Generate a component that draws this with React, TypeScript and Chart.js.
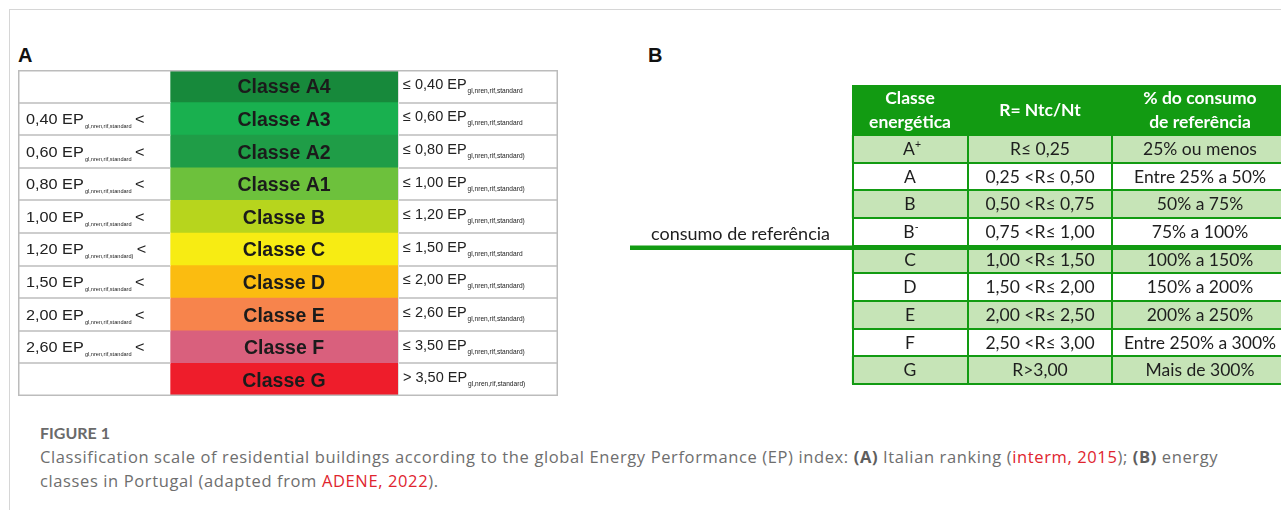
import React, { useEffect, useRef } from "react";
import { Chart, registerables } from "chart.js";
Chart.register(...registerables);

// ---------- Panel A data (Italian ranking) ----------
const classesA = ["Classe A4", "Classe A3", "Classe A2", "Classe A1", "Classe B", "Classe C", "Classe D", "Classe E", "Classe F", "Classe G"];
const lowerBoundsA = ["", "0,40", "0,60", "0,80", "1,00", "1,20", "1,50", "2,00", "2,60", ""];
const lowerSubsA = ["", "gl,nren,rif,standard", "gl,nren,rif,standard", "gl,nren,rif,standard", "gl,nren,rif,standard", "gl,nren,rif,standard)", "gl,nren,rif,standard", "gl,nren,rif,standard", "gl,nren,rif,standard", ""];
const upperBoundsA = ["≤ 0,40", "≤ 0,60", "≤ 0,80", "≤ 1,00", "≤ 1,20", "≤ 1,50", "≤ 2,00", "≤ 2,60", "≤ 3,50", "> 3,50"];
const upperSubsA = ["gl,nren,rif,standard", "gl,nren,rif,standard", "gl,nren,rif,standard)", "gl,nren,rif,standard)", "gl,nren,rif,standard)", "gl,nren,rif,standard", "gl,nren,rif,standard)", "gl,nren,rif,standard)", "gl,nren,rif,standard)", "gl,nren,rif,standard)"];
const colorsA = ["#17893b", "#19b04f", "#1f9d47", "#6dc13c", "#b7d51d", "#f7ec13", "#fbbc10", "#f7844c", "#d9607d", "#ee1d2b"];

// ---------- Panel B data (Portugal) ----------
const headersB = [["Classe", "energética"], ["R= Ntc/Nt"], ["% do consumo", "de referência"]];
const classesB = ["A+", "A", "B", "B-", "C", "D", "E", "F", "G"];
const ratioB = ["R≤ 0,25", "0,25 <R≤ 0,50", "0,50 <R≤ 0,75", "0,75 <R≤ 1,00", "1,00 <R≤ 1,50", "1,50 <R≤ 2,00", "2,00 <R≤ 2,50", "2,50 <R≤ 3,00", "R>3,00"];
const percentB = ["25% ou menos", "Entre 25% a 50%", "50% a 75%", "75% a 100%", "100% a 150%", "150% a 200%", "200% a 250%", "Entre 250% a 300%", "Mais de 300%"];
const referenceClassB = "B-";
const referenceLabelB = "consumo de referência";

// ---------- layout constants ----------
const COL_EDGES_A = [0, 152, 380, 540];
const COL_EDGES_B = [232, 348, 492, 668];
const GREEN_DARK = "#129b12";
const GREEN_LIGHT = "#c6e4b7";
const FONT_B = '17.5px "Lato"';

function drawEP(ctx: CanvasRenderingContext2D, x: number, y: number, main: string, sub: string, suffix: string, mainSize: number, subSize: number, sx: number) {
  ctx.save();
  ctx.translate(x, y);
  ctx.scale(sx, 1);
  ctx.textAlign = "left";
  ctx.textBaseline = "alphabetic";
  ctx.font = `${mainSize}px "Liberation Sans"`;
  ctx.fillText(main, 0, 0);
  let w = ctx.measureText(main).width;
  ctx.font = `${subSize}px "Liberation Sans"`;
  ctx.fillText(sub, w + 1, 4);
  w += 1 + ctx.measureText(sub).width;
  if (suffix) {
    ctx.font = `${mainSize}px "Liberation Sans"`;
    ctx.fillText(suffix, w + 3, 0);
  }
  ctx.restore();
}

const tableAPlugin = {
  id: "tableA",
  afterDatasetsDraw(chart: any) {
    const { ctx, chartArea, scales } = chart;
    const x = scales.x, y = scales.y;
    const n = classesA.length;
    const rowH = (chartArea.bottom - chartArea.top) / n;
    const xe = COL_EDGES_A.map((v) => x.getPixelForValue(v));
    ctx.save();
    ctx.strokeStyle = "#cdcdcd";
    ctx.lineWidth = 2;
    for (let i = 1; i < n; i++) {
      const yy = Math.round(y.getPixelForValue(i) - rowH / 2);
      ctx.beginPath();
      ctx.moveTo(xe[0], yy); ctx.lineTo(xe[1], yy);
      ctx.moveTo(xe[2], yy); ctx.lineTo(xe[3], yy);
      ctx.stroke();
    }
    ctx.strokeStyle = "#dedede";
    ctx.lineWidth = 1;
    ctx.beginPath();
    ctx.moveTo(xe[2] + 0.5, chartArea.top); ctx.lineTo(xe[2] + 0.5, chartArea.bottom);
    ctx.stroke();
    ctx.strokeStyle = "#bcbcbc";
    ctx.lineWidth = 1.5;
    ctx.strokeRect(xe[0] + 0.75, chartArea.top + 0.75, xe[3] - xe[0] - 1.5, chartArea.bottom - chartArea.top - 1.5);
    for (let i = 0; i < n; i++) {
      const cy = y.getPixelForValue(i);
      ctx.fillStyle = "#1b1b1b";
      ctx.font = 'bold 19.5px "Liberation Sans"';
      ctx.textAlign = "center";
      ctx.textBaseline = "alphabetic";
      ctx.fillText(classesA[i], (xe[1] + xe[2]) / 2, cy + 7);
      ctx.fillStyle = "#222222";
      if (lowerBoundsA[i]) drawEP(ctx, xe[0] + 8, cy + 5, lowerBoundsA[i] + " EP", lowerSubsA[i], "<", 14.5, 5, 1.12);
      drawEP(ctx, xe[2] + 5, cy + 2.5, upperBoundsA[i] + " EP", upperSubsA[i], "", 14.5, 6.6, 1.0);
    }
    ctx.restore();
  },
};

const tableBPlugin = {
  id: "tableB",
  afterDatasetsDraw(chart: any) {
    const { ctx, chartArea, scales } = chart;
    const x = scales.x, y = scales.y;
    const n = classesB.length;
    const rowH = (chartArea.bottom - chartArea.top) / n;
    const xe = COL_EDGES_B.map((v) => x.getPixelForValue(v));
    const headTop = 5;
    ctx.save();
    ctx.fillStyle = GREEN_DARK;
    ctx.fillRect(xe[0], headTop, xe[3] - xe[0], chartArea.top - headTop);
    ctx.fillStyle = "#ffffff";
    ctx.font = 'bold 17.5px "Lato"';
    ctx.textAlign = "center";
    ctx.textBaseline = "alphabetic";
    headersB.forEach((lines, c) => {
      const cx = (xe[c] + xe[c + 1]) / 2;
      const mid = (headTop + chartArea.top) / 2;
      lines.forEach((t, k) => {
        const off = (k - (lines.length - 1) / 2) * 24;
        ctx.fillText(t, cx, mid + off + 6);
      });
    });
    ctx.strokeStyle = GREEN_DARK;
    ctx.lineWidth = 2;
    for (let i = 0; i <= n; i++) {
      const yy = Math.round(chartArea.top + i * rowH);
      ctx.beginPath();
      ctx.moveTo(xe[0], yy); ctx.lineTo(xe[3], yy);
      ctx.stroke();
    }
    for (let c = 0; c < 4; c++) {
      const top = c === 0 || c === 3 ? headTop : chartArea.top;
      const xx = xe[c] + (c === 0 ? 1 : 0);
      ctx.beginPath();
      ctx.moveTo(xx, top); ctx.lineTo(xx, chartArea.bottom + 1);
      ctx.stroke();
    }
    const ri = classesB.indexOf(referenceClassB);
    const ly = y.getPixelForValue(ri) + rowH / 2 + 2;
    ctx.strokeStyle = GREEN_DARK;
    ctx.lineWidth = 4.5;
    ctx.beginPath();
    ctx.moveTo(x.getPixelForValue(10), ly); ctx.lineTo(chart.width, ly);
    ctx.stroke();
    ctx.fillStyle = "#1e1e1e";
    ctx.font = '18px "Lato"';
    ctx.textAlign = "left";
    ctx.fillText(referenceLabelB, x.getPixelForValue(31), ly - 8);
    for (let i = 0; i < n; i++) {
      const cy = y.getPixelForValue(i) + 6;
      ctx.fillStyle = "#1e1e1e";
      ctx.textAlign = "center";
      ctx.font = FONT_B;
      const lab = classesB[i];
      const base = lab.replace(/[+-]$/, "");
      const sup = lab.length > base.length ? lab.slice(base.length) : "";
      const cx0 = (xe[0] + xe[1]) / 2;
      if (sup) {
        const bw = ctx.measureText(base).width;
        ctx.textAlign = "left";
        ctx.fillText(base, cx0 - bw / 2 - 1, cy);
        ctx.font = '10.5px "Lato"';
        ctx.fillText(sup, cx0 + bw / 2 - 1, cy - 7);
        ctx.font = FONT_B;
        ctx.textAlign = "center";
      } else {
        ctx.fillText(base, cx0, cy);
      }
      ctx.fillText(ratioB[i], (xe[1] + xe[2]) / 2, cy);
      ctx.fillText(percentB[i], (xe[2] + xe[3]) / 2, cy);
    }
    ctx.restore();
  },
};

export default function App() {
  const refA = useRef<HTMLCanvasElement>(null);
  const refB = useRef<HTMLCanvasElement>(null);

  useEffect(() => {
    const common: any = {
      responsive: false,
      animation: false,
      devicePixelRatio: 1,
      indexAxis: "y",
      events: [],
      plugins: { legend: { display: false }, tooltip: { enabled: false } },
    };
    const chartA = new Chart(refA.current!, {
      type: "bar",
      data: {
        labels: classesA,
        datasets: [0, 1, 2].map((c) => ({
          data: classesA.map(() => [COL_EDGES_A[c], COL_EDGES_A[c + 1]]),
          backgroundColor: c === 1 ? colorsA : "#ffffff",
          borderWidth: 0,
          grouped: false,
          barPercentage: 1,
          categoryPercentage: 1,
        })) as any,
      },
      options: {
        ...common,
        layout: { padding: 0 },
        scales: {
          x: { type: "linear", min: 0, max: 541, display: false },
          y: { type: "category", display: false, offset: true },
        },
      },
      plugins: [tableAPlugin],
    });
    const chartB = new Chart(refB.current!, {
      type: "bar",
      data: {
        labels: classesB,
        datasets: [0, 1, 2].map((c) => ({
          data: classesB.map(() => [COL_EDGES_B[c], COL_EDGES_B[c + 1]]),
          backgroundColor: classesB.map((_, i) => (i % 2 === 0 ? GREEN_LIGHT : "#ffffff")),
          borderWidth: 0,
          grouped: false,
          barPercentage: 1,
          categoryPercentage: 1,
        })) as any,
      },
      options: {
        ...common,
        layout: { padding: { top: 55, bottom: 8, left: 0, right: 0 } },
        scales: {
          x: { type: "linear", min: 0, max: 661, display: false },
          y: { type: "category", display: false, offset: true },
        },
      },
      plugins: [tableBPlugin],
    });
    return () => {
      chartA.destroy();
      chartB.destroy();
    };
  }, []);

  const cap: React.CSSProperties = { fontFamily: '"Open Sans"', fontSize: 16.5, lineHeight: "24px", color: "#6e6e6e", whiteSpace: "nowrap", letterSpacing: "0.62px" };
  const red: React.CSSProperties = { color: "#e0242e" };
  const bold: React.CSSProperties = { fontWeight: 700, color: "#5e5e5e" };

  return (
    <div style={{ position: "absolute", left: 0, top: 0, width: 1281, height: 510, overflow: "hidden", background: "#ffffff" }}>
      <div style={{ position: "absolute", left: 9, top: 9, width: 1290, height: 520, borderTop: "1px solid #d6d6d6", borderLeft: "1px solid #d6d6d6" }} />
      <div style={{ position: "absolute", left: 18, top: 45, font: 'bold 20px "Liberation Sans"', lineHeight: "20px", color: "#111" }}>A</div>
      <div style={{ position: "absolute", left: 648, top: 45, font: 'bold 20px "Liberation Sans"', lineHeight: "20px", color: "#111" }}>B</div>
      <canvas ref={refA} width={541} height={326} style={{ position: "absolute", left: 18, top: 70 }} />
      <canvas ref={refB} width={661} height={312} style={{ position: "absolute", left: 620, top: 80 }} />
      <div style={{ ...cap, position: "absolute", left: 40, top: 421 }}>
        <div style={{ fontFamily: "Lato", fontSize: 16, fontWeight: 700, color: "#6a6a6a", letterSpacing: "0px" }}>FIGURE 1</div>
        <div>
          Classification scale of residential buildings according to the global Energy Performance (EP) index: <span style={bold}>(A)</span> Italian ranking (<span style={red}>interm, 2015</span>); <span style={bold}>(B)</span> energy
        </div>
        <div>
          classes in Portugal (adapted from <span style={red}>ADENE, 2022</span>).
        </div>
      </div>
    </div>
  );
}
